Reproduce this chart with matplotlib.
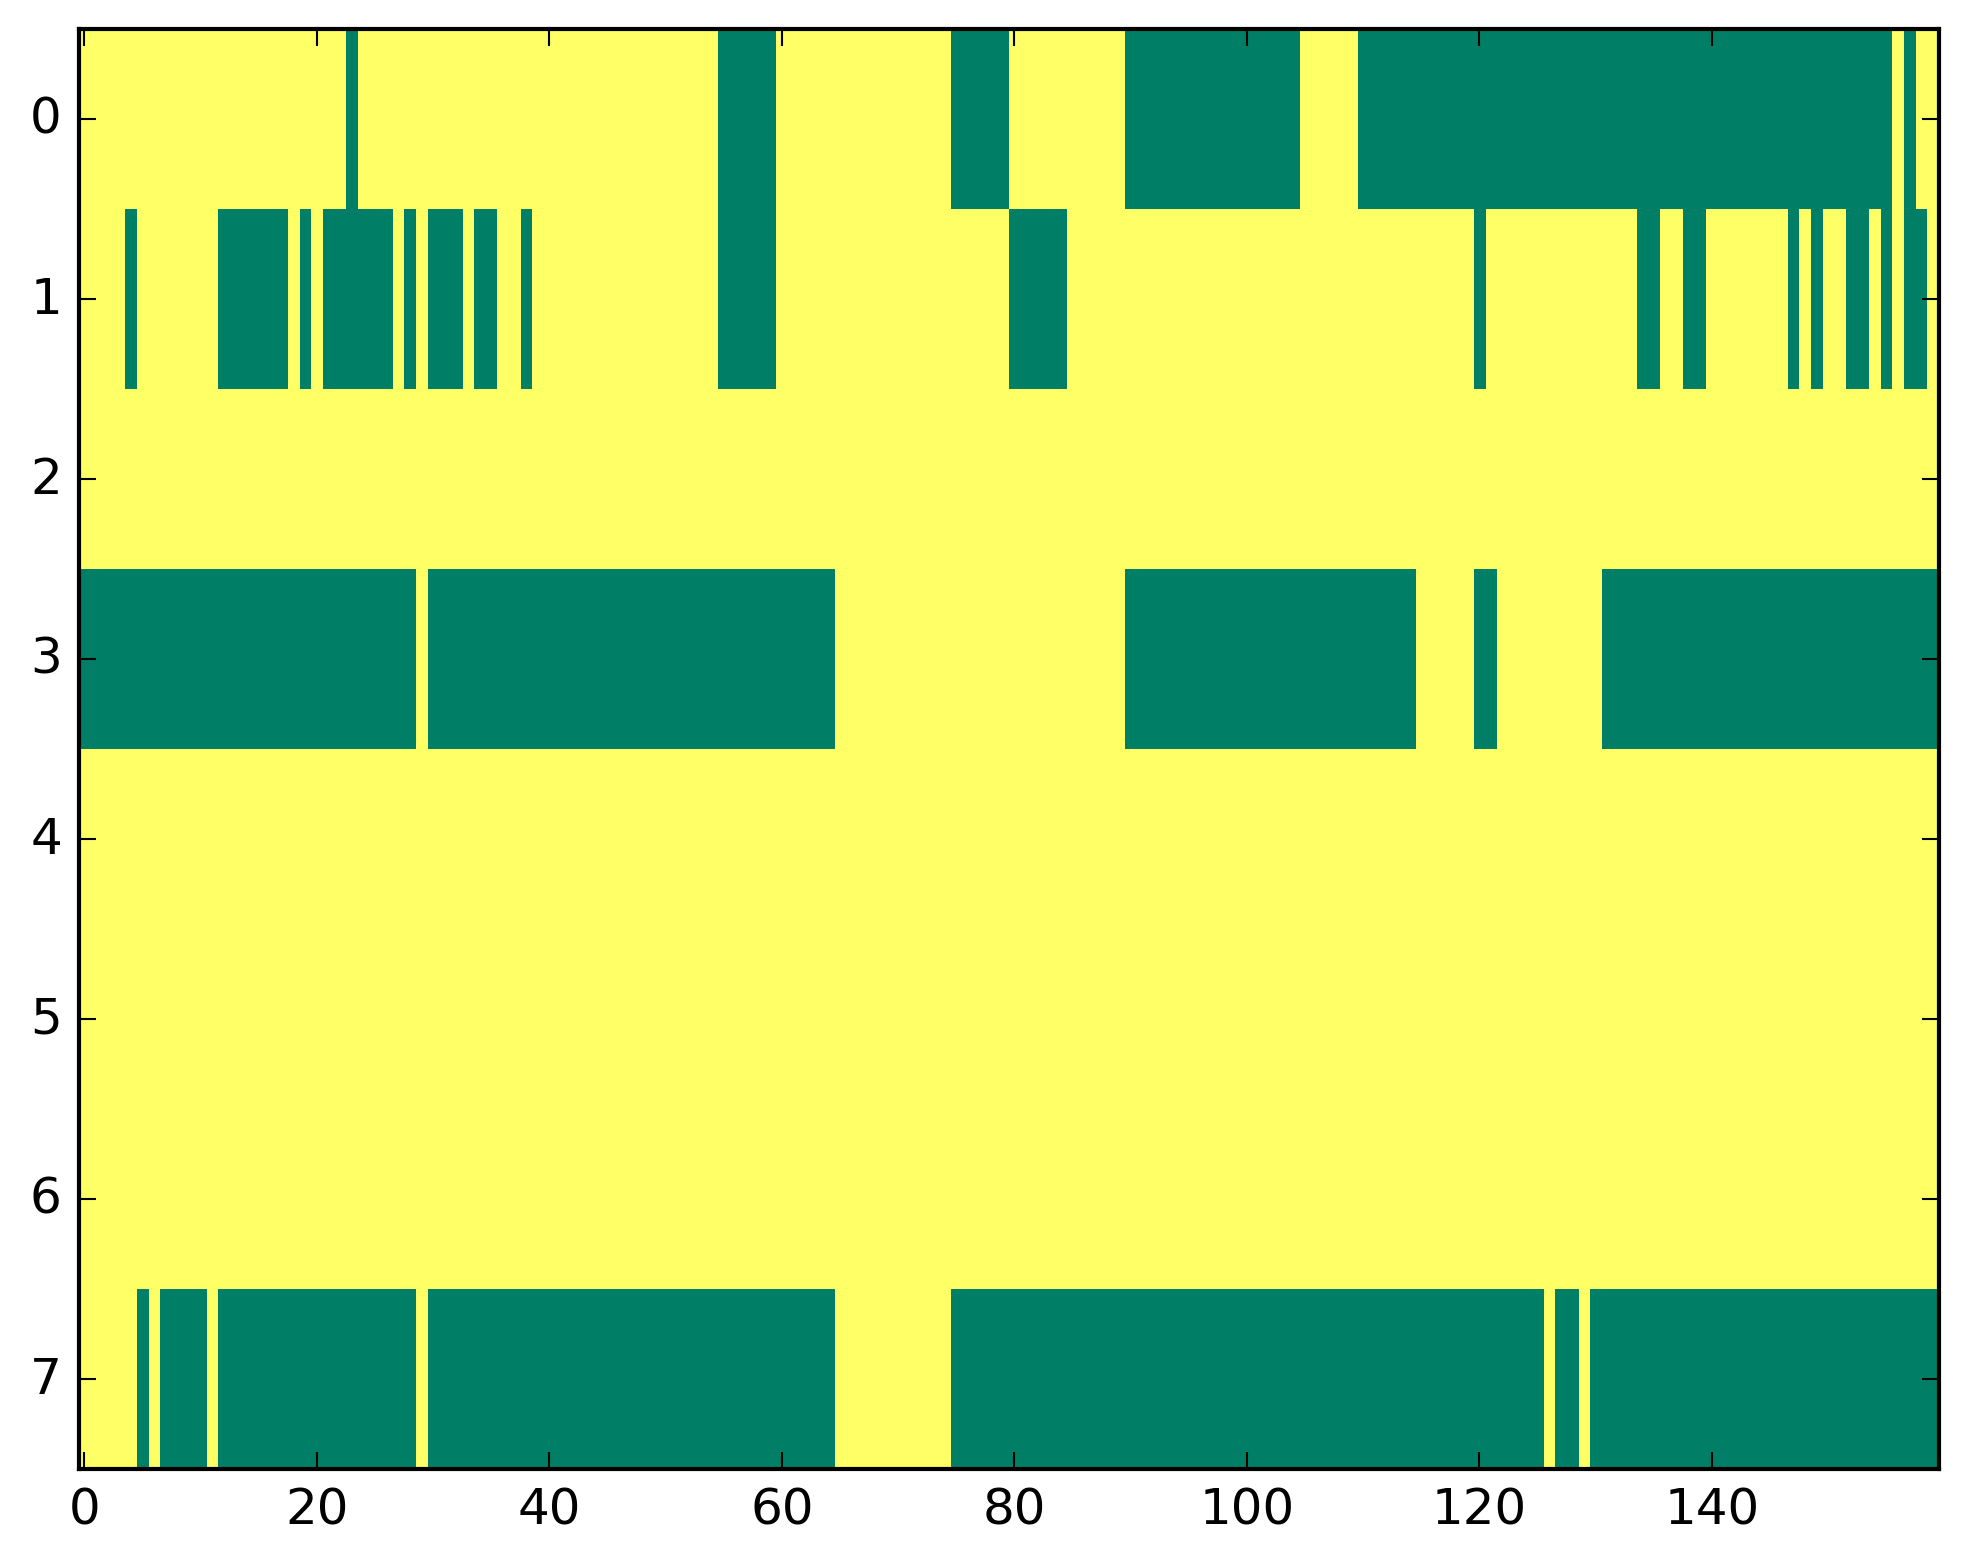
import numpy as np
import matplotlib
matplotlib.use("Agg")
import matplotlib.pyplot as plt

plt.style.use('classic')

# 8 rows x 160 columns, value 1 everywhere except the green runs (value 0)
n_rows = 8
n_cols = 160

# green runs per row, inclusive (start, end) column indices
green_runs = {
    0: [(23, 23), (55, 59), (75, 79), (90, 104), (110, 155), (157, 157)],
    1: [(4, 4), (12, 17), (19, 19), (21, 26), (28, 28), (30, 32), (34, 35),
        (38, 38), (55, 59), (80, 84), (120, 120), (134, 135), (138, 139),
        (147, 147), (149, 149), (152, 153), (155, 155), (157, 158)],
    2: [],
    3: [(0, 28), (30, 64), (90, 114), (120, 121), (131, 159)],
    4: [],
    5: [],
    6: [],
    7: [(5, 5), (7, 10), (12, 28), (30, 64), (75, 125), (127, 128), (130, 159)],
}

mat = np.ones((n_rows, n_cols))
for r, runs in green_runs.items():
    for a, b in runs:
        mat[r, a:b + 1] = 0

plt.figure(figsize=(8, 6))
plt.imshow(mat, cmap='summer', interpolation='nearest', aspect='auto')
plt.savefig("out.png", bbox_inches='tight', dpi=300)
